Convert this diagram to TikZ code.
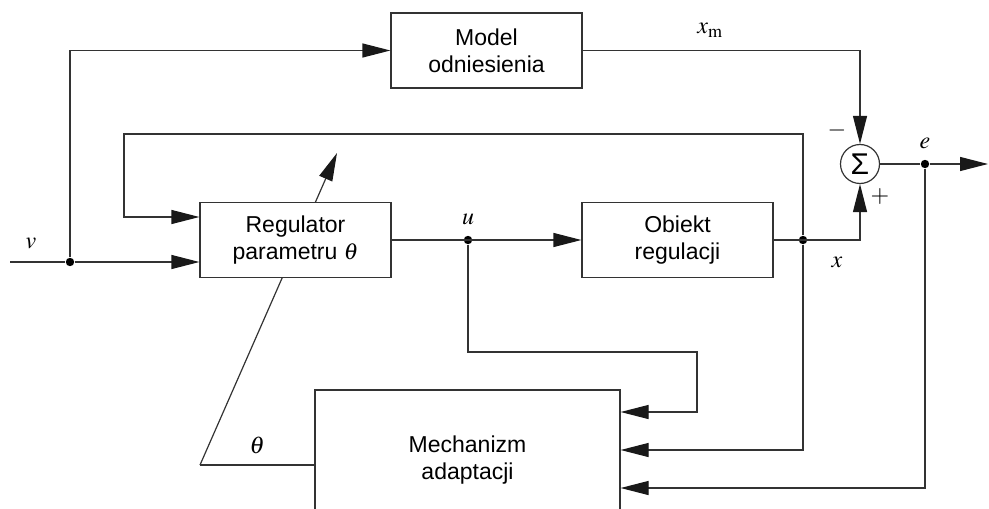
\documentclass[tikz,border=0pt]{standalone}
\usepackage{mathptmx}
\usepackage{fontspec}
\setmainfont{Liberation Sans}
\usetikzlibrary{arrows.meta,positioning}

\tikzset{
  sig/.style={draw=black!80, line width=0.6pt},
  arr/.style={sig, -{Triangle[length=14pt,width=7pt,color=black!90]}},
  blk/.style={sig, fill=white, minimum width=95.5pt, minimum height=37.5pt,
    inner sep=0pt, align=center, font=\fontsize{11.5}{13.5}\selectfont},
  dot/.style={circle, fill=black, inner sep=0pt, minimum size=4.2pt},
  lbl/.style={font=\fontsize{12}{12}\selectfont}
}

\begin{document}
\begin{tikzpicture}[x=0.5pt,y=-0.5pt]
  \useasboundingbox (0,0) rectangle (989,508);
  \clip (0,0) rectangle (989,508);

  % theta adjustment line (runs behind the regulator)
  \coordinate (thbend) at (200,465);
  \coordinate (thtip) at (337,153);
  \draw[arr] (thbend) -- (thtip);

  % blocks
  \node[blk] (model) at (486.5,50.5) {Model\\odniesienia};
  \node[blk] (reg) at (295.5,240) {Regulator\\parametru $\theta$};
  \node[blk] (obj) at (677.5,240) {Obiekt\\regulacji};
  \node[blk, minimum width=152.5pt, minimum height=70pt] (mech) at (467.5,460) {Mechanizm\\adaptacji};
  \node[sig, circle, minimum size=19.5pt, inner sep=0pt, font=\fontsize{15}{15}\selectfont] (sum) at (860,164) {Σ};

  % branch points
  \node[dot] (vsplit) at (70,262) {};
  \node[dot] (usplit) at (468,240) {};
  \node[dot] (xsplit) at (803,240) {};
  \node[dot] (esplit) at (925,164) {};

  \coordinate (vin) at (10,262);
  \coordinate (fbcorner) at (124,134);
  \coordinate (ucorner) at (697,352);
  \coordinate (eout) at (988,164);

  % input v
  \draw[sig] (vin) -- (vsplit);
  \draw[arr] (vsplit) -- (reg.west |- vsplit);
  \draw[arr] (vsplit) |- (model.west);
  \node[lbl] (vlab) at (31,243) {$v$};

  % model output
  \draw[arr] (model.east) -| node[lbl, pos=0.23, above=3pt] (xmlab) {$x_{\mathrm{m}}$} (sum.north);
  \node[lbl] (minus) at (837,130) {$-$};
  \node[lbl] (plus) at (880,197) {$+$};

  % control u
  \draw[arr] (reg.east) -- (obj.west);
  \node[lbl, above=4pt] (ulab) at (usplit) {$u$};
  \draw[arr] (usplit) |- (ucorner) |- ([yshift=24pt]mech.east);

  % plant output x
  \draw[arr] (obj.east) -| (sum.south);
  \node[lbl] (xlab) at (837,262) {$x$};
  \draw[arr] (xsplit) |- (fbcorner) |- ([yshift=11.5pt]reg.west);
  \draw[arr] (xsplit) |- ([yshift=5pt]mech.east);

  % error e
  \draw[sig] (sum.east) -- (esplit);
  \draw[arr] (esplit) -- (eout);
  \node[lbl, above=4pt] (elab) at (esplit) {$e$};
  \draw[arr] (esplit) |- ([yshift=-14pt]mech.east);

  % theta from the adaptation block
  \draw[sig] (mech.west |- thbend) -- node[lbl, above=2pt] (thlab) {$\theta$} (thbend);
\end{tikzpicture}
\end{document}
